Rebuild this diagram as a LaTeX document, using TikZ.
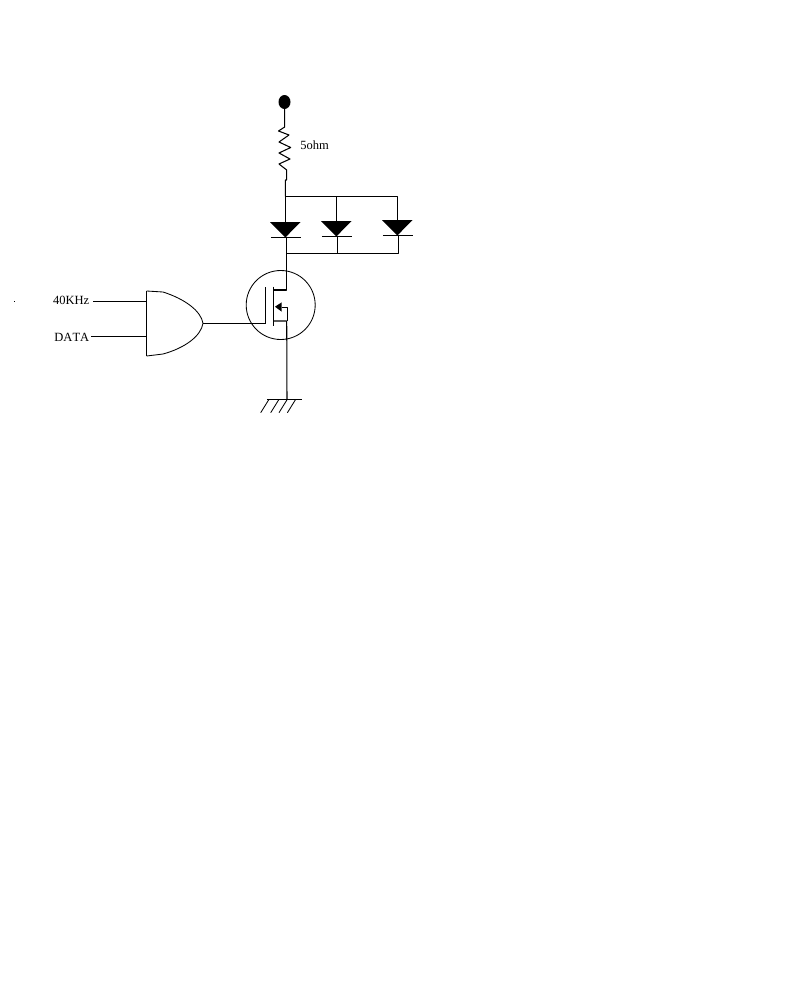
\documentclass[tikz,border=0pt]{standalone}
\usepackage{fontspec}
\setmainfont{Liberation Serif}[Kerning=Off]
\tikzset{
	wire/.style={line width=0.75pt},
	thin wire/.style={line width=0.6pt},
	label text/.style={font=\fontsize{8.9}{10}\selectfont, inner sep=0pt},
}
\begin{document}
\begin{tikzpicture}[x=0.025cm, y=-0.025cm, line join=round]
	\useasboundingbox[fill=white] (0,0) rectangle (800,1000);
	% supply and resistor
	\coordinate (vcc) at (284.5,102);
	\coordinate (bustop) at (285.3,196.3);
	\coordinate (busbot) at (286.7,253.3);
	\fill (vcc) ellipse (6 and 7);
	\draw[wire] (vcc) -- (284.7,127) -- (278.5,131) -- (289,135) -- (279,142) -- (290.7,147.5)
		-- (279,153) -- (290,159) -- (279,164) -- (286.7,170) -- (286.7,180) -- (285.3,180) -- (bustop);
	\node[label text, anchor=west] (rval) at (300,145) {5ohm};
	% LEDs
	\draw[wire] (bustop) -- (397.3,196.3) -- (397.3,220);
	\draw[wire] (336.3,196.3) -- (336.3,221);
	\draw[wire] (bustop) -- (285.3,222);
	\draw[wire] (busbot) -- (398.7,253.3) -- (398.7,235.3);
	\draw[wire] (337.3,253.3) -- (337.3,236.3);
	\foreach \x/\y in {285.3/222, 336.3/221, 397.3/220}{
		\fill (\x-15.3,\y) -- (\x+15.3,\y) -- (\x,\y+15.5) -- cycle;
		\draw[wire] (\x-14.5,\y+15.5) -- (\x+16,\y+15.5);
	}
	% mosfet
	\coordinate (gate) at (265.7,323.3);
	\coordinate (drain) at (286.7,290);
	\coordinate (source) at (286.7,321);
	\coordinate (gnd) at (287,399.3);
	\draw[thin wire] (280.7,305) circle (34.5);
	\draw[wire] (286.7,237.7) -- (drain) -- (273.3,290);
	\draw[wire] (273.3,286.7) -- (273.3,326);
	\draw[wire] (265.7,287.3) -- (gate);
	\draw[wire] (273.3,321) -- (source) -- (gnd);
	\draw[wire] (281.7,307.7) -- (287.7,307.7) -- (287.7,321);
	\fill (275,306.7) -- (281.7,302.3) -- (281.7,311.7) -- cycle;
	% ground
	\draw[wire] (267.3,399.3) -- (301.7,399.3);
	\foreach \x in {269,279,287.3,295.7}{
		\draw[thin wire] (\x,399.3) -- (\x-8.3,412.7);
	}
	% and gate
	\coordinate (out) at (203,323.3);
	\draw[wire] (146.7,291) -- (146.7,356);
	\draw[thin wire] (146.7,291) -- (163,292) .. controls (185,299) and (201,311) .. (out)
		.. controls (201,336) and (185,348) .. (163,354) -- (146.7,356);
	\draw[wire] (out) -- (gate);
	\node[label text, anchor=east] (clk) at (89.5,300) {40KHz};
	\node[label text, anchor=east] (data) at (89.5,337.5) {DATA};
	\draw[wire] (93.3,301.3) -- (146.7,301.3);
	\draw[wire] (91,336.3) -- (146.7,336.3);
	\fill (13.7,301.2) rectangle (15.2,302.2);
\end{tikzpicture}
\end{document}
